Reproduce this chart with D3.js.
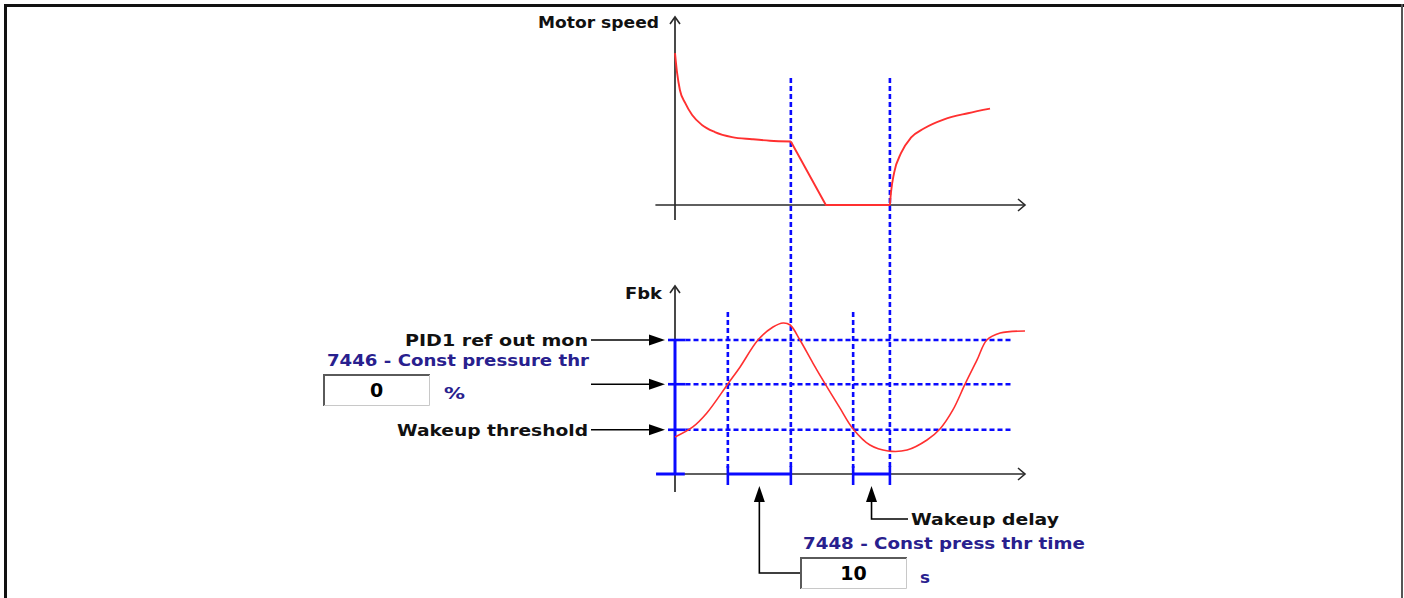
<!DOCTYPE html>
<html><head><meta charset="utf-8">
<script src="https://cdn.jsdelivr.net/npm/d3@7"></script>
<style>
html,body{margin:0;padding:0;background:#fff;}
svg{display:block;}
text{font-family:"DejaVu Sans",Verdana,sans-serif;font-weight:bold;}
</style></head>
<body>
<svg id="c" width="1404" height="598"></svg>
<script>
// ---- data ----
const eventTimes = [15.1, 33.1, 50.9, 61.4];          // x positions of the event markers (time units 0..100)
const levelValues = [100, 67, 33];                     // PID1 ref, const pressure thr, wakeup threshold (Fbk units)
const levelLabels = ["PID1 ref out mon", "", "Wakeup threshold"];
const speedDecay = [[0,99.3],[0.6,86.3],[1.4,75.2],[2.9,66.7],[4.9,58.8],[7.7,52.3],[11.4,47.7],[16.3,44.4],[22,43],[27.1,42],[33.1,41.5]];
const speedStop  = [[33.1,41.5],[43.1,0],[61.4,0]];
const speedRise  = [[61.4,0],[61.7,8],[62.6,21],[64.6,34],[67.4,44],[71.1,50],[76.9,56],[83.7,60],[90,63]];
const fbkCurve = [[0,27.6],[5.1,35.1],[9.1,45.5],[15.1,67.2],[18.6,79.9],[23.7,100],[28,109.7],[30.9,112.7],
  [32.9,111.2],[35.7,100],[39.4,82.8],[42.9,67.2],[47.1,49.3],[50.9,33.6],[55.7,21.6],[60.9,17.2],[66.3,17.9],
  [72,25.4],[75.7,33.6],[79.4,47.8],[82.9,67.2],[86.3,85.1],[89.1,100],[92.9,105.2],[100,106.7]];
const axisTitles = ["Motor speed", "Fbk"];
const paramNames = ["7446 - Const pressure thr", "7448 - Const press thr time"];
const paramValues = ["0", "10"];
const paramUnits = ["%", "s"];
const delayLabel = "Wakeup delay";

// ---- drawing ----
const svg = d3.select("#c");
const x = d3.scaleLinear().domain([0,100]).range([675,1025]);
const yS = d3.scaleLinear().domain([0,100]).range([205,52]);
const yF = d3.scaleLinear().domain([0,100]).range([474,340]);
const BLUE = "#0a0aff", RED = "#ff3030", AX = "#2a2a2a", TXT_BLUE = "#28208e";

// frame
svg.append("line").attr("x1",4).attr("x2",1404).attr("y1",5.5).attr("y2",5.5).attr("stroke","#111").attr("stroke-width",3);
svg.append("line").attr("x1",5.5).attr("x2",5.5).attr("y1",4).attr("y2",598).attr("stroke","#111").attr("stroke-width",3);
svg.append("line").attr("x1",1402).attr("x2",1402).attr("y1",4).attr("y2",598).attr("stroke","#555").attr("stroke-width",2);

function chevronUp(g, cx, cy){
  g.append("path").attr("d",`M${cx-5},${cy+7}L${cx},${cy}L${cx+5},${cy+7}`).attr("fill","none").attr("stroke",AX).attr("stroke-width",1.6);
}
function chevronRight(g, cx, cy){
  g.append("path").attr("d",`M${cx-7},${cy-6}L${cx},${cy}L${cx-7},${cy+6}`).attr("fill","none").attr("stroke",AX).attr("stroke-width",1.6);
}
function triRight(g, tx, ty){
  g.append("path").attr("d",`M${tx},${ty}L${tx-16},${ty-5.5}L${tx-16},${ty+5.5}Z`).attr("fill","#000");
}
function triUp(g, tx, ty){
  g.append("path").attr("d",`M${tx},${ty}L${tx-5.5},${ty+16}L${tx+5.5},${ty+16}Z`).attr("fill","#000");
}

const g = svg.append("g");

// ---- top chart axes ----
g.append("line").attr("x1",x(0)).attr("x2",x(0)).attr("y1",220).attr("y2",17).attr("stroke",AX).attr("stroke-width",1.7);
chevronUp(g, x(0), 17);
g.append("line").attr("x1",x(-5.6)).attr("x2",x(100)).attr("y1",yS(0)).attr("y2",yS(0)).attr("stroke",AX).attr("stroke-width",1.7);
chevronRight(g, x(100), yS(0));

// ---- bottom chart axes ----
g.append("line").attr("x1",x(0)).attr("x2",x(0)).attr("y1",492).attr("y2",286).attr("stroke",AX).attr("stroke-width",1.7);
chevronUp(g, x(0), 286);
g.append("line").attr("x1",x(-5.4)).attr("x2",x(100)).attr("y1",yF(0)).attr("y2",yF(0)).attr("stroke",AX).attr("stroke-width",1.7);
chevronRight(g, x(100), yF(0));

// dashed horizontal levels
levelValues.forEach(v=>{
  g.append("line").attr("x1",x(3)).attr("x2",x(96.3)).attr("y1",yF(v)).attr("y2",yF(v))
    .attr("stroke",BLUE).attr("stroke-width",2.6).attr("stroke-dasharray","5,3");
  g.append("line").attr("x1",x(-2)).attr("x2",x(3)).attr("y1",yF(v)).attr("y2",yF(v))
    .attr("stroke",BLUE).attr("stroke-width",2.6);
});

// dashed verticals
eventTimes.forEach((t,i)=>{
  const top = (i===1||i===3) ? yS(83) : 312;
  g.append("line").attr("x1",x(t)).attr("x2",x(t)).attr("y1",top).attr("y2",yF(0)-6)
    .attr("stroke",BLUE).attr("stroke-width",2.6).attr("stroke-dasharray","5,3");
  g.append("line").attr("x1",x(t)).attr("x2",x(t)).attr("y1",yF(0)-8).attr("y2",yF(0)+11)
    .attr("stroke",BLUE).attr("stroke-width",2.6);
});

// solid blue markers
g.append("line").attr("x1",x(0)).attr("x2",x(0)).attr("y1",yF(levelValues[0])).attr("y2",yF(0))
  .attr("stroke",BLUE).attr("stroke-width",3);
g.append("line").attr("x1",x(-5.4)).attr("x2",x(2.8)).attr("y1",yF(0)).attr("y2",yF(0)).attr("stroke",BLUE).attr("stroke-width",3);
[[eventTimes[0],eventTimes[1]],[eventTimes[2],eventTimes[3]]].forEach(([a,b])=>{
  g.append("line").attr("x1",x(a)).attr("x2",x(b)).attr("y1",yF(0)).attr("y2",yF(0)).attr("stroke",BLUE).attr("stroke-width",3);
});

// curves
const smoothS = d3.line().x(d=>x(d[0])).y(d=>yS(d[1])).curve(d3.curveMonotoneX);
g.append("path").datum(speedDecay).attr("d",smoothS).attr("fill","none").attr("stroke",RED).attr("stroke-width",1.9);
g.append("path").datum(speedStop).attr("d",d3.line().x(d=>x(d[0])).y(d=>yS(d[1]))).attr("fill","none").attr("stroke",RED).attr("stroke-width",1.9);
g.append("path").datum(speedRise).attr("d",smoothS).attr("fill","none").attr("stroke",RED).attr("stroke-width",1.9);
g.append("path").datum(fbkCurve).attr("d",d3.line().x(d=>x(d[0])).y(d=>yF(d[1])).curve(d3.curveCatmullRom.alpha(0.5))).attr("fill","none").attr("stroke",RED).attr("stroke-width",1.6);

// text helper
function label(txt, xPos, yPos, width, color, anchor, size){
  const t = g.append("text").attr("x",xPos).attr("y",yPos).attr("fill",color).attr("font-size",size||16.5)
    .attr("text-anchor",anchor||"start").text(txt);
  if(width){ t.attr("textLength",width).attr("lengthAdjust","spacingAndGlyphs"); }
  return t;
}

// axis titles
label(axisTitles[0], 538, 28, 121, "#111");
label(axisTitles[1], 625, 299, 37, "#111");

// level labels with arrows
levelValues.forEach((v,i)=>{
  g.append("line").attr("x1",591).attr("x2",652).attr("y1",yF(v)).attr("y2",yF(v)).attr("stroke","#000").attr("stroke-width",1.6);
  triRight(g, 665, yF(v));
});
label(levelLabels[0], 405, 346, 183, "#111");
label(levelLabels[2], 397, 436, 191, "#111");

// param 1
label(paramNames[0], 327, 366, 262, TXT_BLUE);
function inputBox(x0,y0,w,h,val){
  g.append("rect").attr("x",x0).attr("y",y0).attr("width",w).attr("height",h).attr("fill","#fff");
  g.append("path").attr("d",`M${x0+1},${y0+h}V${y0+1}H${x0+w}`).attr("fill","none").attr("stroke","#5a5a5a").attr("stroke-width",2);
  g.append("path").attr("d",`M${x0+w-0.5},${y0+1}V${y0+h-0.5}H${x0+1}`).attr("fill","none").attr("stroke","#c8c8c8").attr("stroke-width",1);
  g.append("text").attr("x",x0+w/2).attr("y",y0+h/2+7).attr("text-anchor","middle").attr("font-size",19).attr("fill","#000").text(val);
}
inputBox(323,374,107,32,paramValues[0]);
label(paramUnits[0], 444, 399, 21, TXT_BLUE, "start", 15);

// bottom callouts
const mid1 = (eventTimes[0]+eventTimes[1])/2, mid2 = (eventTimes[2]+eventTimes[3])/2;
g.append("path").attr("d",`M${x(mid1)},500V573H800`).attr("fill","none").attr("stroke","#000").attr("stroke-width",1.6);
triUp(g, x(mid1), 486);
g.append("path").attr("d",`M${x(mid2)},500V519H908`).attr("fill","none").attr("stroke","#000").attr("stroke-width",1.6);
triUp(g, x(mid2), 486);
label(delayLabel, 911, 525, 148, "#111");
label(paramNames[1], 803, 549, 282, TXT_BLUE);
inputBox(800,557,107,32,paramValues[1]);
label(paramUnits[1], 920, 583, 10, TXT_BLUE, "start", 16);
</script>
</body></html>
